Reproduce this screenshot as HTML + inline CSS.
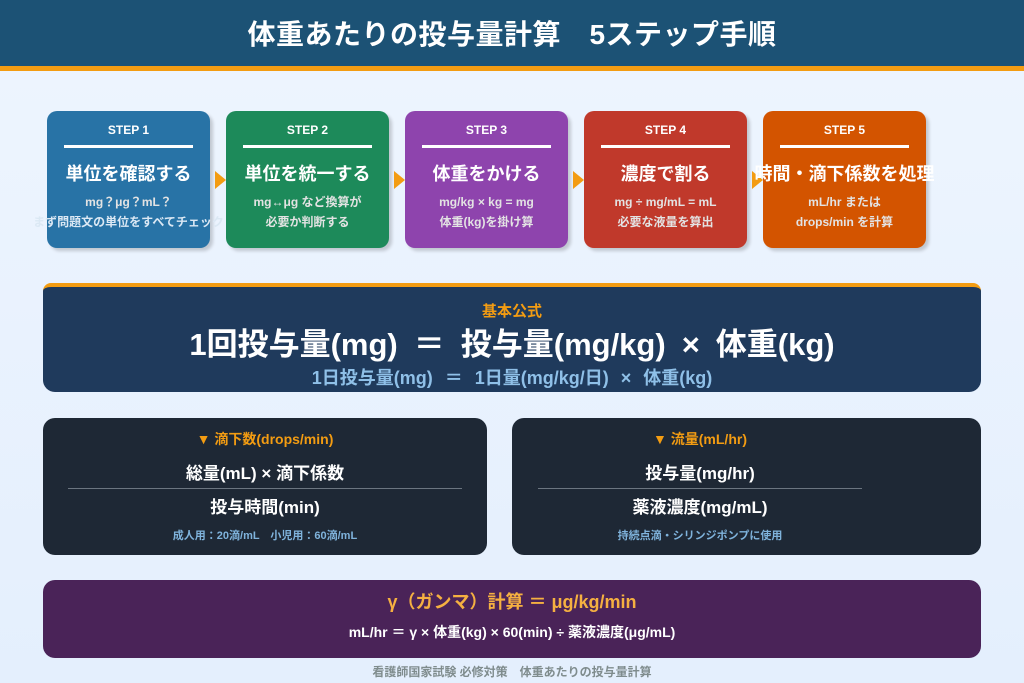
<!DOCTYPE html>
<html><head><meta charset="utf-8"><style>
*{margin:0;padding:0;box-sizing:border-box}
body{width:1024px;height:683px;background:linear-gradient(#eef5fe,#e4effd);font-family:"Liberation Sans","Noto Sans CJK JP",sans-serif;position:relative;overflow:hidden;color:#fff}
.abs{position:absolute}
.hdr{left:0;top:0;width:1024px;height:71px;background:#1c5275;border-bottom:5px solid #f39c12;text-align:center;font-size:28px;font-weight:bold;line-height:70px;letter-spacing:0.5px}
.step{top:111px;width:163px;height:137px;border-radius:10px;box-shadow:3px 3px 3px rgba(0,0,0,0.18);text-align:center}
.step .t{font-size:12px;font-weight:bold;margin-top:12px;height:14px}
.step .ln{margin:8px auto 0;width:129px;height:3px;background:#fff}
.step .h{font-size:18px;font-weight:bold;margin-top:12px;white-space:nowrap;margin-left:-20px;margin-right:-20px}
.step .d{font-size:12px;font-weight:bold;color:#e3e3e3;line-height:20px;margin-top:6px;white-space:nowrap;margin-left:-40px;margin-right:-40px}
.arr{width:0;height:0;border-top:9px solid transparent;border-bottom:9px solid transparent;border-left:11px solid #f39c12;top:171px}
.box{border-radius:12px;text-align:center}
.op{margin:0 16px}
.op2{margin:0 12px}
</style></head><body>
<div class="abs hdr">体重あたりの投与量計算　5ステップ手順</div>

<div class="abs step" style="left:47px;background:#2873a6"><div class="t">STEP 1</div><div class="ln"></div><div class="h">単位を確認する</div><div class="d">mg？μg？mL？<br><span style="color:#dbe8f4">まず問題文の単位をすべてチェック</span></div></div>
<div class="abs arr" style="left:215px"></div>
<div class="abs step" style="left:226px;background:#1d8a5a"><div class="t">STEP 2</div><div class="ln"></div><div class="h">単位を統一する</div><div class="d">mg↔μg など換算が<br>必要か判断する</div></div>
<div class="abs arr" style="left:394px"></div>
<div class="abs step" style="left:405px;background:#8e44ad"><div class="t">STEP 3</div><div class="ln"></div><div class="h">体重をかける</div><div class="d">mg/kg × kg = mg<br>体重(kg)を掛け算</div></div>
<div class="abs arr" style="left:573px"></div>
<div class="abs step" style="left:584px;background:#c0392b"><div class="t">STEP 4</div><div class="ln"></div><div class="h">濃度で割る</div><div class="d">mg ÷ mg/mL = mL<br>必要な液量を算出</div></div>
<div class="abs arr" style="left:752px"></div>
<div class="abs step" style="left:763px;background:#d35400"><div class="t">STEP 5</div><div class="ln"></div><div class="h">時間・滴下係数を処理</div><div class="d">mL/hr または<br>drops/min を計算</div></div>

<div class="abs box" style="left:43px;top:283px;width:938px;height:109px;background:#1f3a5c;border-top:4px solid #f39c12;border-radius:8px 8px 12px 12px">
<div style="color:#f39c12;font-size:15px;font-weight:bold;margin-top:13px">基本公式</div>
<div style="font-size:31px;font-weight:bold;margin-top:5px;line-height:38px;white-space:nowrap">1回投与量(mg)<span class="op">＝</span>投与量(mg/kg)<span class="op">×</span>体重(kg)</div>
<div style="font-size:18px;font-weight:bold;color:#8fc0e8;margin-top:0px;white-space:nowrap">1日投与量(mg)<span class="op2">＝</span>1日量(mg/kg/日)<span class="op2">×</span>体重(kg)</div>
</div>

<div class="abs box" style="left:43px;top:418px;width:444px;height:137px;background:#1e2835">
<div style="color:#f39c12;font-size:14px;font-weight:bold;margin-top:11px">▼ 滴下数(drops/min)</div>
<div style="font-size:17px;font-weight:bold;margin-top:10px">総量(mL) × 滴下係数</div>
<div style="width:394px;height:1px;background:#6b7580;margin:4px auto 0"></div>
<div style="font-size:17px;font-weight:bold;margin-top:4px">投与時間(min)</div>
<div style="font-size:11px;font-weight:bold;color:#7fb3dc;margin-top:9px">成人用：20滴/mL　小児用：60滴/mL</div>
</div>
<div class="abs box" style="left:512px;top:418px;width:469px;height:137px;background:#1e2835">
<div style="width:376px">
<div style="color:#f39c12;font-size:14px;font-weight:bold;padding-top:11px">▼ 流量(mL/hr)</div>
<div style="font-size:17px;font-weight:bold;margin-top:10px">投与量(mg/hr)</div>
<div style="width:324px;height:1px;background:#6b7580;margin:4px auto 0"></div>
<div style="font-size:17px;font-weight:bold;margin-top:4px">薬液濃度(mg/mL)</div>
<div style="font-size:11px;font-weight:bold;color:#7fb3dc;margin-top:9px">持続点滴・シリンジポンプに使用</div>
</div>
</div>

<div class="abs box" style="left:43px;top:580px;width:938px;height:78px;background:#4a2358">
<div style="color:#f5b041;font-size:18px;font-weight:bold;margin-top:8px">γ（ガンマ）計算 ＝ μg/kg/min</div>
<div style="font-size:14px;font-weight:bold;margin-top:8px">mL/hr ＝ γ × 体重(kg) × 60(min) ÷ 薬液濃度(μg/mL)</div>
</div>
<div class="abs" style="left:0;top:663px;width:1024px;text-align:center;font-size:12px;font-weight:bold;color:#7f8c8d">看護師国家試験 必修対策　体重あたりの投与量計算</div>
</body></html>
